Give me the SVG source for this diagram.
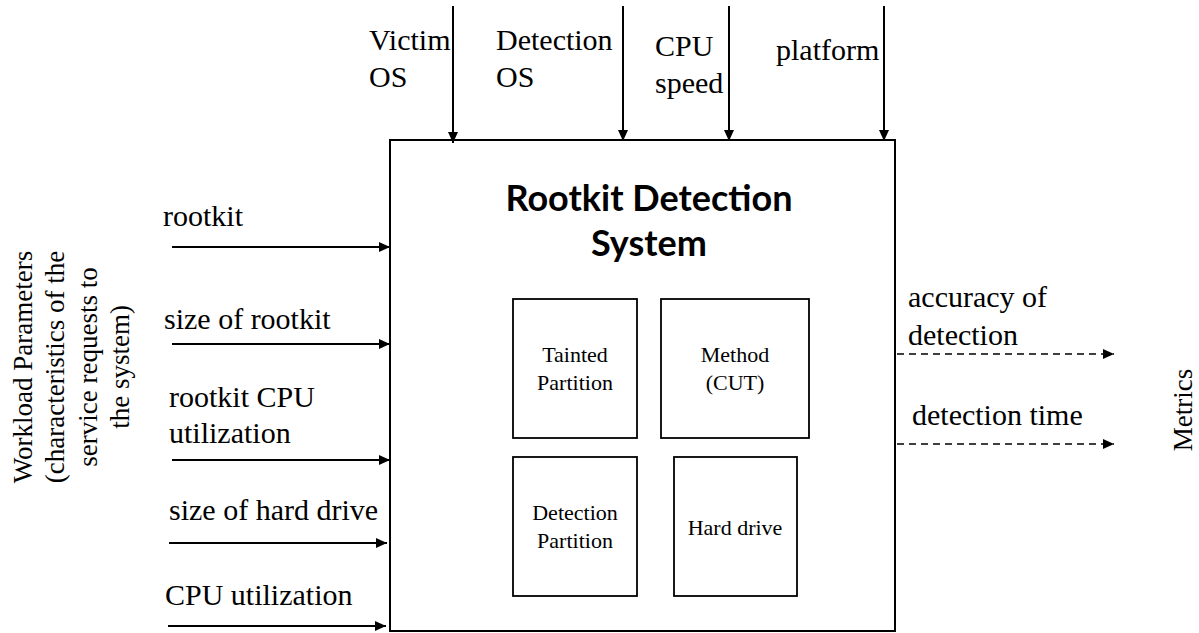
<svg xmlns="http://www.w3.org/2000/svg" width="1199" height="633" viewBox="0 0 1199 633">
<style>
.t{font-family:"Liberation Serif","Times New Roman",serif;font-size:30px;fill:#000}
.s{font-family:"Liberation Serif","Times New Roman",serif;font-size:22px;fill:#000;text-anchor:middle}
.r{font-family:"Liberation Serif","Times New Roman",serif;font-size:27px;fill:#000;text-anchor:middle}
.title{font-family:Lato,"Liberation Sans",sans-serif;font-weight:bold;font-size:36px;fill:#000;text-anchor:middle}
.box{fill:#fff;stroke:#000;stroke-width:2}
.inner{fill:#fff;stroke:#000;stroke-width:1.8}
.a{stroke:#000;stroke-width:2;fill:none;marker-end:url(#ah)}
.d{stroke:#000;stroke-width:1.6;fill:none;stroke-dasharray:7 5;marker-end:url(#ah)}
</style>
<defs>
<marker id="ah" markerUnits="userSpaceOnUse" markerWidth="11" markerHeight="10" refX="11" refY="5" orient="auto">
<path d="M0,0 L11,5 L0,10 Z" fill="#000"/>
</marker>
</defs>
<rect width="1199" height="633" fill="#fff"/>
<g id="system">
<rect class="box" x="390" y="140" width="505" height="491"/>
<text class="title" x="649" y="211">Rootkit Detection</text>
<text class="title" x="649" y="256">System</text>
</g>
<g id="tainted-partition">
<rect class="inner" x="513" y="299" width="124" height="139"/>
<text class="s" x="575" y="362">Tainted</text>
<text class="s" x="575" y="390">Partition</text>
</g>
<g id="method">
<rect class="inner" x="661" y="299" width="148" height="139"/>
<text class="s" x="735" y="362">Method</text>
<text class="s" x="735" y="390">(CUT)</text>
</g>
<g id="detection-partition">
<rect class="inner" x="513" y="457" width="124" height="139"/>
<text class="s" x="575" y="520">Detection</text>
<text class="s" x="575" y="548">Partition</text>
</g>
<g id="hard-drive">
<rect class="inner" x="674" y="457" width="123" height="139"/>
<text class="s" x="735" y="535">Hard drive</text>
</g>
<g id="workload-label">
<text class="r" transform="translate(32,367) rotate(-90)"><tspan x="0" y="0">Workload Parameters</tspan><tspan x="0" y="32">(characteristics of the</tspan><tspan x="0" y="65">service requests to</tspan><tspan x="0" y="97">the system)</tspan></text>
</g>
<g id="metrics-label">
<text class="r" transform="translate(1192,410) rotate(-90)">Metrics</text>
</g>
<g id="labels">
<text class="t" x="369" y="50">Victim</text>
<text class="t" x="369" y="87">OS</text>
<text class="t" x="496" y="50">Detection</text>
<text class="t" x="496" y="87">OS</text>
<text class="t" x="655" y="56">CPU</text>
<text class="t" x="655" y="93">speed</text>
<text class="t" x="776" y="60">platform</text>
<text class="t" x="163" y="226">rootkit</text>
<text class="t" x="164" y="329">size of rootkit</text>
<text class="t" x="169" y="407">rootkit CPU</text>
<text class="t" x="169" y="443">utilization</text>
<text class="t" x="169" y="520">size of hard drive</text>
<text class="t" x="165" y="605">CPU utilization</text>
<text class="t" x="908" y="307">accuracy of</text>
<text class="t" x="908" y="345">detection</text>
<text class="t" x="912" y="425">detection time</text>
</g>
<g id="connectors">
<line class="a" x1="453" y1="6" x2="453" y2="143"/>
<line class="a" x1="623" y1="6" x2="623" y2="141"/>
<line class="a" x1="729" y1="6" x2="729" y2="141"/>
<line class="a" x1="884" y1="6" x2="884" y2="141"/>
<line class="a" x1="172" y1="247" x2="390" y2="247"/>
<line class="a" x1="172" y1="344" x2="390" y2="344"/>
<line class="a" x1="172" y1="460" x2="390" y2="460"/>
<line class="a" x1="169" y1="543" x2="387" y2="543"/>
<line class="a" x1="168" y1="626" x2="386" y2="626"/>
<line class="d" x1="897" y1="354" x2="1114" y2="354"/>
<line class="d" x1="897" y1="444" x2="1114" y2="444"/>
</g>
</svg>
